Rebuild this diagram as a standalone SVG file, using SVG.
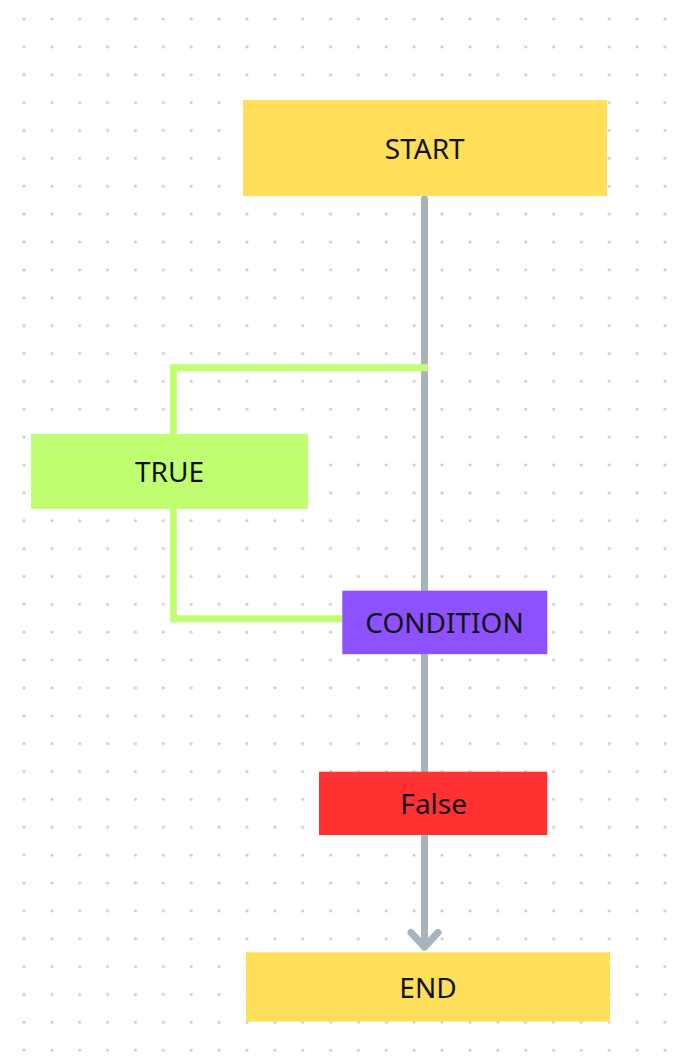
<svg xmlns="http://www.w3.org/2000/svg" width="682" height="1056" viewBox="0 0 682 1056">
  <style>
    .lbl { font-family: "Noto Sans", "Liberation Sans", sans-serif; font-size: 28px; fill: #111111; text-anchor: middle; }
    .flow { fill: none; stroke: #a9b3ba; stroke-width: 7; stroke-linecap: round; stroke-linejoin: round; }
    .branch { fill: none; stroke: #c1ff72; stroke-width: 7; stroke-linecap: butt; stroke-linejoin: miter; }
  </style>
  <defs>
    <pattern id="dots" patternUnits="userSpaceOnUse" x="10.065" y="5.065" width="27.87" height="27.87">
      <circle cx="13.935" cy="13.935" r="1.6" fill="#c9ccd2"/>
    </pattern>
  </defs>
  <rect x="0" y="0" width="682" height="1056" fill="#ffffff"/>
  <rect x="0" y="0" width="682" height="1056" fill="url(#dots)"/>

  <g id="connectors">
    <path class="flow" d="M424.5,199 L424.5,947"/>
    <path class="flow" d="M411,932.5 L424.5,947 L438,932.5"/>
    <path class="branch" d="M428,367.8 L173.4,367.8 L173.4,434"/>
    <path class="branch" d="M173.4,509 L173.4,618.7 L342.5,618.7"/>
  </g>

  <g id="start">
    <rect x="243" y="100" width="364" height="96" fill="#ffde59"/>
    <text class="lbl" x="424.7" y="159.3">START</text>
  </g>
  <g id="true">
    <rect x="31" y="434" width="277" height="75" fill="#c1ff72"/>
    <text class="lbl" x="169.5" y="482">TRUE</text>
  </g>
  <g id="condition">
    <rect x="342.3" y="590.7" width="205" height="63.5" fill="#8c52ff"/>
    <text class="lbl" x="444.5" y="633.3">CONDITION</text>
  </g>
  <g id="false">
    <rect x="319" y="771.7" width="228.3" height="63.3" fill="#ff3131"/>
    <text class="lbl" x="433.7" y="814">False</text>
  </g>
  <g id="end">
    <rect x="246" y="952.3" width="364" height="69.4" fill="#ffde59"/>
    <text class="lbl" x="428" y="998.3">END</text>
  </g>
</svg>
